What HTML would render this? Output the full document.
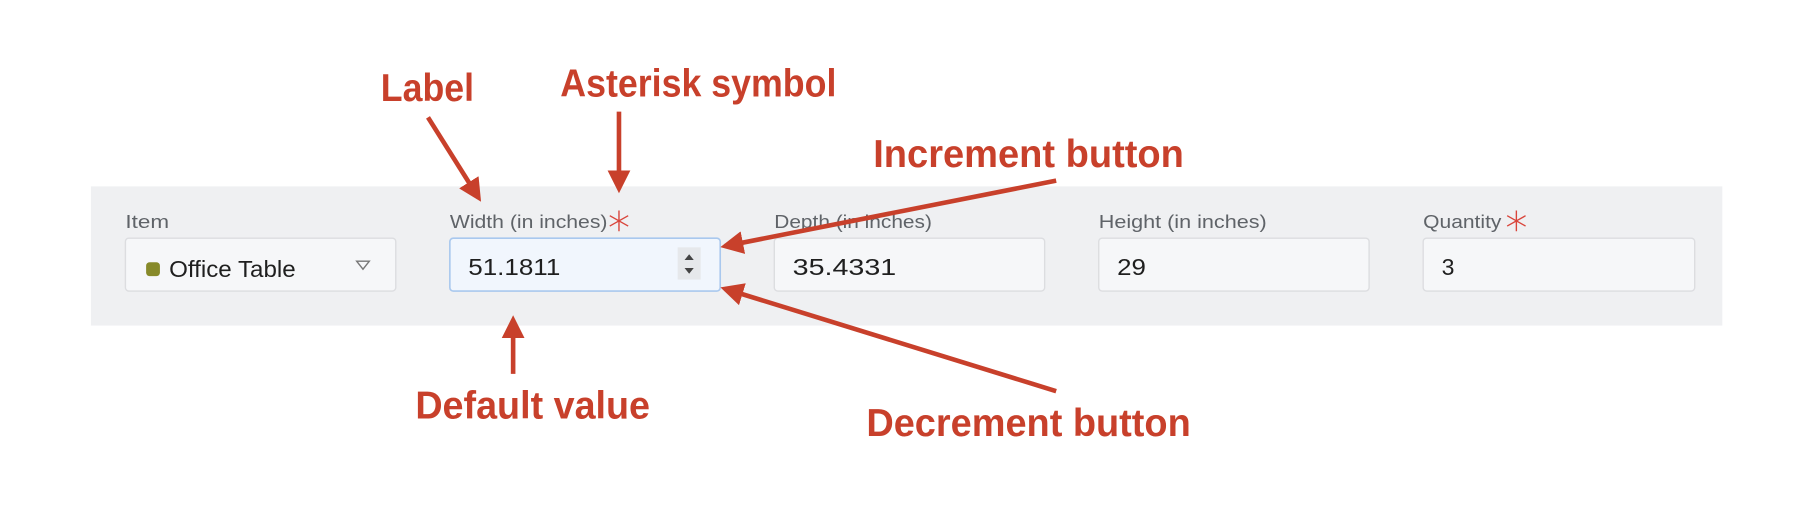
<!DOCTYPE html>
<html><head><meta charset="utf-8"><style>html,body{margin:0;padding:0;background:#fff;}svg{display:block}</style></head>
<body>
<svg width="1804" height="530" viewBox="0 0 1568 460.7" preserveAspectRatio="none" xmlns="http://www.w3.org/2000/svg" font-family="Liberation Sans, sans-serif">
<defs>
<marker id="ah" markerWidth="5" markerHeight="5" refX="4" refY="2.5" orient="auto" markerUnits="strokeWidth">
<path d="M0,0 L5,2.5 L0,5 z" fill="#c8402b"/></marker>
</defs>
<rect x="79" y="162" width="1418" height="121" fill="#eff0f2"/>
<g font-size="16" fill="#5f6368">
<text x="109" y="198" textLength="38" lengthAdjust="spacingAndGlyphs">Item</text>
<text x="391" y="198" textLength="137" lengthAdjust="spacingAndGlyphs">Width (in inches)</text>
<text x="673" y="198" textLength="137" lengthAdjust="spacingAndGlyphs">Depth (in inches)</text>
<text x="955" y="198" textLength="146" lengthAdjust="spacingAndGlyphs">Height (in inches)</text>
<text x="1237" y="198" textLength="68" lengthAdjust="spacingAndGlyphs">Quantity</text>
</g>
<g stroke="#d9443a" stroke-width="1.2">
<path d="M538,183 v18 M530,187.5 l16,9 M530,196.5 l16,-9"/>
<path d="M1318,183 v18 M1310,187.5 l16,9 M1310,196.5 l16,-9"/>
</g>
<g fill="#f6f7f9" stroke="#dcdde0" stroke-width="1.2">
<rect x="109" y="207" width="235" height="46" rx="3"/>
<rect x="673" y="207" width="235" height="46" rx="3"/>
<rect x="955" y="207" width="235" height="46" rx="3"/>
<rect x="1237" y="207" width="236" height="46" rx="3"/>
</g>
<rect x="391" y="207" width="235" height="46" rx="3" fill="#f1f6fd" stroke="#a9c8ee" stroke-width="1.4"/>
<rect x="127" y="228" width="12" height="12" rx="3" fill="#878a2a"/>
<path d="M310,227 l11,0 l-5.5,7 z" fill="none" stroke="#777" stroke-width="1.2"/>
<g font-size="20" fill="#1f1f1f">
<text x="147" y="241" textLength="110" lengthAdjust="spacingAndGlyphs">Office Table</text>
<text x="407" y="239" textLength="80" lengthAdjust="spacingAndGlyphs">51.1811</text>
<text x="689" y="239" textLength="90" lengthAdjust="spacingAndGlyphs">35.4331</text>
<text x="971" y="239" textLength="25" lengthAdjust="spacingAndGlyphs">29</text>
<text x="1253" y="239">3</text>
</g>
<rect x="589" y="215" width="20" height="28" fill="#e6e8eb"/>
<path d="M595,226 l4,-5 l4,5 z M595,233 l4,5 l4,-5 z" fill="#444"/>
<g fill="#c8402b" font-weight="bold" font-size="34">
<text x="331" y="88" textLength="81" lengthAdjust="spacingAndGlyphs">Label</text>
<text x="487" y="84" textLength="240" lengthAdjust="spacingAndGlyphs">Asterisk symbol</text>
<text x="759" y="145" textLength="270" lengthAdjust="spacingAndGlyphs">Increment button</text>
<text x="361" y="364" textLength="204" lengthAdjust="spacingAndGlyphs">Default value</text>
<text x="753" y="379" textLength="282" lengthAdjust="spacingAndGlyphs">Decrement button</text>
</g>
<g stroke="#c8402b" stroke-width="4" fill="none" marker-end="url(#ah)">
<line x1="372" y1="102" x2="416" y2="172"/>
<line x1="538" y1="97" x2="538" y2="164"/>
<line x1="918" y1="157" x2="630" y2="214"/>
<line x1="918" y1="340" x2="630" y2="251"/>
<line x1="446" y1="325" x2="446" y2="278"/>
</g>
</svg>
</body></html>
